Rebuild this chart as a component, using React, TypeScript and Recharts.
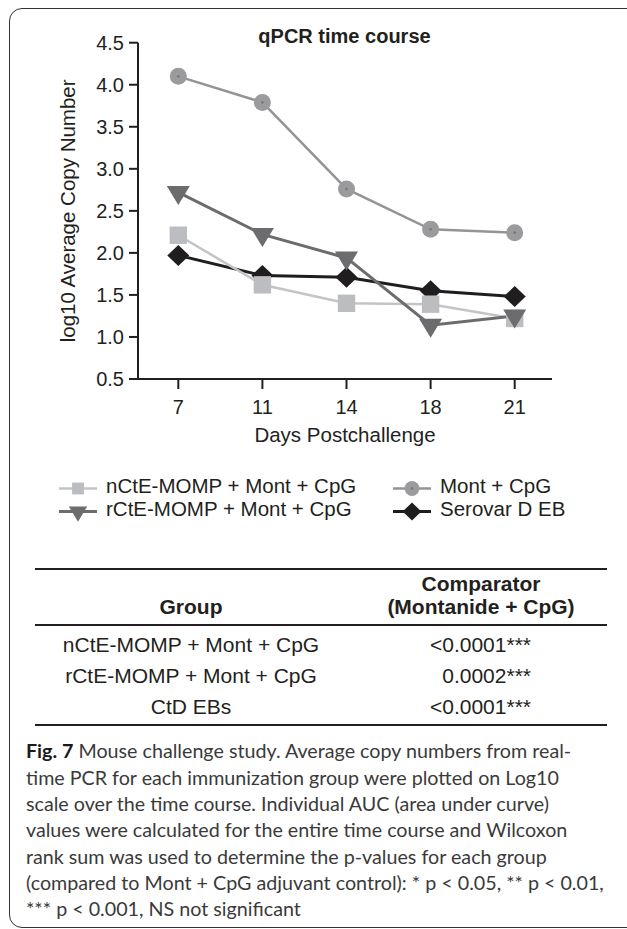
import { LineChart, Line, XAxis, YAxis, Label } from "recharts"

// days after challenge (plotted as equally spaced categories)
const days = ["7", "11", "14", "18", "21"]

// log10 average copy number per group
const nCtEMomp = [2.21, 1.62, 1.4, 1.39, 1.22]
const montCpg = [4.1, 3.79, 2.76, 2.28, 2.24]
const rCtEMomp = [2.72, 2.22, 1.94, 1.14, 1.25]
const serovarD = [1.97, 1.73, 1.71, 1.55, 1.48]

const yTicks = [0.5, 1.0, 1.5, 2.0, 2.5, 3.0, 3.5, 4.0, 4.5]

const tableGroups = ["nCtE-MOMP + Mont + CpG", "rCtE-MOMP + Mont + CpG", "CtD EBs"]
const tablePValues = ["<0.0001***", "0.0002***", "<0.0001***"]

const captionLines = [
  " Mouse challenge study. Average copy numbers from real-",
  "time PCR for each immunization group were plotted on Log10",
  "scale over the time course. Individual AUC (area under curve)",
  "values were calculated for the entire time course and Wilcoxon",
  "rank sum was used to determine the p-values for each group",
  "(compared to Mont + CpG adjuvant control): * p < 0.05, ** p < 0.01,",
  "*** p < 0.001, NS not significant",
]

const data = days.map((day, i) => ({
  day,
  nCtE: nCtEMomp[i],
  mont: montCpg[i],
  rCtE: rCtEMomp[i],
  serovar: serovarD[i],
}))

type Shape = "square" | "circle" | "triangle" | "diamond"

// drawing order matters: later series sit on top
const series: { key: string; name: string; stroke: string; fill: string; width: number; shape: Shape; legendScale: number }[] = [
  { key: "serovar", name: "Serovar D EB", stroke: "#1f1d1e", fill: "#1f1d1e", width: 3, shape: "diamond", legendScale: 0.85 },
  { key: "nCtE", name: "nCtE-MOMP + Mont + CpG", stroke: "#c3c4c7", fill: "#bcbdc1", width: 2.5, shape: "square", legendScale: 0.68 },
  { key: "rCtE", name: "rCtE-MOMP + Mont + CpG", stroke: "#6c6c6f", fill: "#6c6c6f", width: 3, shape: "triangle", legendScale: 0.8 },
  { key: "mont", name: "Mont + CpG", stroke: "#949497", fill: "#9b9b9e", width: 2.5, shape: "circle", legendScale: 0.88 },
]

const legendOrder = ["nCtE", "mont", "rCtE", "serovar"]

const ink = "#231f20"
const chartFont = "'Liberation Sans', Arial, Helvetica, sans-serif"

const Marker = ({ shape, cx, cy, fill, scale = 1 }: { shape: Shape; cx: number; cy: number; fill: string; scale?: number }) => {
  if (shape === "square") {
    const s = 8.7 * scale
    return <rect x={cx - s} y={cy - s} width={2 * s} height={2 * s} fill={fill} />
  }
  if (shape === "circle") {
    return (
      <g>
        <circle cx={cx} cy={cy} r={8.5 * scale} fill={fill} />
        <circle cx={cx} cy={cy} r={1.4} fill="#7a7a7d" />
      </g>
    )
  }
  if (shape === "triangle") {
    const w = 11.5 * scale
    const h = 19 * scale
    return <polygon points={`${cx - w},${cy - h / 3} ${cx + w},${cy - h / 3} ${cx},${cy + (2 * h) / 3}`} fill={fill} />
  }
  const w = 11 * scale
  const h = 10.5 * scale
  return <polygon points={`${cx - w},${cy} ${cx},${cy - h} ${cx + w},${cy} ${cx},${cy + h}`} fill={fill} />
}

const ChartLegend = () => (
  <div
    style={{
      position: "absolute",
      left: 59,
      top: 475,
      display: "grid",
      gridTemplateColumns: "334px auto",
      fontFamily: chartFont,
      fontSize: 20.5,
      color: ink,
    }}
  >
    {legendOrder.map((k) => {
      const s = series.find((x) => x.key === k)!
      return (
        <div key={k} style={{ display: "flex", alignItems: "flex-start", height: 22.7, lineHeight: "22.7px", whiteSpace: "nowrap" }}>
          <svg width={38} height={23} style={{ overflow: "visible" }}>
            <line x1={0} x2={38} y1={13.5} y2={13.5} stroke={s.stroke} strokeWidth={s.width} />
            <Marker shape={s.shape} cx={19} cy={13.5} fill={s.fill} scale={s.legendScale} />
          </svg>
          <span style={{ marginLeft: 9 }}>{s.name}</span>
        </div>
      )
    })}
  </div>
)

const Rule = ({ y }: { y: number }) => (
  <div style={{ position: "absolute", left: 35, top: y - 1, width: 572, height: 2, background: ink }} />
)

const cell = (text: string, top: number, x: number, align: "center" | "right", bold = false) => (
  <div
    key={text + top}
    style={{
      position: "absolute",
      top: top - 12,
      left: align === "center" ? x - 200 : x - 400,
      width: 400,
      textAlign: align,
      lineHeight: "24px",
      fontSize: 21,
      fontWeight: bold ? 700 : 400,
      whiteSpace: "nowrap",
    }}
  >
    {text}
  </div>
)

const rowCenters = [644.5, 676, 707]

export default function App() {
  return (
    <div style={{ position: "absolute", left: 0, top: 0, width: 627, height: 929, overflow: "hidden", background: "#fff" }}>
      {/* rounded frame, runs off the right and bottom edges */}
      <div
        style={{
          position: "absolute",
          left: 9,
          top: 8,
          width: 700,
          height: 920,
          border: "1.5px solid #333",
          borderRadius: 13,
          boxSizing: "border-box",
        }}
      />

      <div
        style={{
          position: "absolute",
          left: 144.5,
          top: 26.4,
          width: 400,
          textAlign: "center",
          fontFamily: chartFont,
          fontWeight: 700,
          fontSize: 20,
          lineHeight: "20px",
          color: ink,
        }}
      >
        qPCR time course
      </div>

      <div style={{ position: "absolute", left: 0, top: 0 }}>
        <LineChart width={627} height={460} data={data} margin={{ top: 42.7, right: 75, bottom: 11, left: 0 }}>
          <XAxis
            dataKey="day"
            type="category"
            height={70}
            padding={{ left: 40.3, right: 37.3 }}
            axisLine={{ stroke: ink, strokeWidth: 2 }}
            tickLine={{ stroke: ink, strokeWidth: 2 }}
            tickSize={10}
            tickMargin={11}
            tick={{ fill: ink, fontSize: 20, fontFamily: chartFont }}
          >
            <Label value="Days Postchallenge" position="insideBottom" offset={7} fill={ink} fontSize={20.5} fontFamily={chartFont} />
          </XAxis>
          <YAxis
            width={138}
            domain={[0.5, 4.5]}
            ticks={yTicks}
            interval={0}
            tickFormatter={(v: number) => v.toFixed(1)}
            axisLine={{ stroke: ink, strokeWidth: 2 }}
            tickLine={{ stroke: ink, strokeWidth: 2 }}
            tickSize={9}
            tickMargin={5}
            tick={{ fill: ink, fontSize: 20, fontFamily: chartFont }}
          >
            <Label
              value="log10 Average Copy Number"
              angle={-90}
              position="insideLeft"
              offset={68}
              fill={ink}
              fontSize={20.5}
              fontFamily={chartFont}
              style={{ textAnchor: "middle" }}
            />
          </YAxis>
          {series.map((s) => (
            <Line
              key={s.key}
              dataKey={s.key}
              name={s.name}
              type="linear"
              stroke={s.stroke}
              strokeWidth={s.width}
              isAnimationActive={false}
              dot={(p: any) => <Marker key={`${s.key}-${p.index}`} shape={s.shape} cx={p.cx} cy={p.cy} fill={s.fill} />}
              activeDot={false}
            />
          ))}
        </LineChart>
      </div>

      <ChartLegend />

      {/* AUC comparison table */}
      <div style={{ fontFamily: chartFont, color: ink }}>
        <Rule y={569.3} />
        {cell("Comparator", 584, 481, "center", true)}
        {cell("(Montanide + CpG)", 607, 481, "center", true)}
        {cell("Group", 607, 191, "center", true)}
        <Rule y={625} />
        {tableGroups.map((g, i) => cell(g, rowCenters[i], 191, "center"))}
        {tablePValues.map((p, i) => cell(p, rowCenters[i], 531, "right"))}
        <Rule y={725} />
      </div>

      <div
        style={{
          position: "absolute",
          left: 26,
          top: 738.4,
          fontFamily: "Lato, 'Open Sans', sans-serif",
          fontSize: 19.7,
          lineHeight: "26.33px",
          color: "#3a3a3a",
          whiteSpace: "nowrap",
        }}
      >
        {captionLines.map((line, i) => (
          <div key={i}>
            {i === 0 && <b style={{ color: "#1a1a1a" }}>Fig. 7</b>}
            {line}
          </div>
        ))}
      </div>
    </div>
  )
}
